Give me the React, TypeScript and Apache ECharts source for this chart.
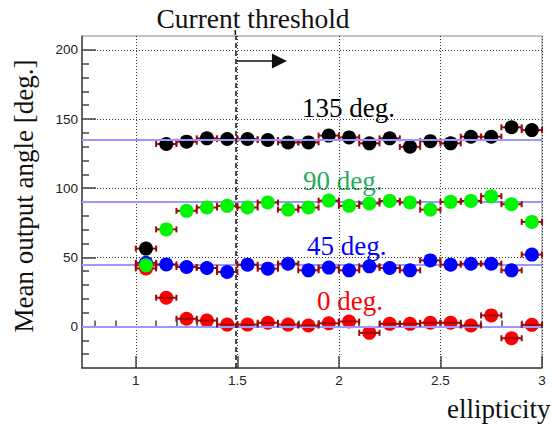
import React, { useEffect, useRef } from "react";
import * as echarts from "echarts";

// ---- data ----
const ellipticity = [1.05, 1.15, 1.25, 1.35, 1.45, 1.55, 1.65, 1.75, 1.85, 1.95, 2.05, 2.15, 2.25, 2.35, 2.45, 2.55, 2.65, 2.75, 2.85, 2.95];
const binHalfWidth = 0.05;
const angle0 = [42, 20.8, 5.6, 4.3, 1.4, 1.4, 2.7, 1.4, 0.7, 2.3, 3.6, -4.6, 1.9, 1.9, 2.7, 2.7, 0.7, 8, -8.5, 1.2];
const angle45 = [46, 44.9, 43, 42.3, 39.4, 44.7, 41.8, 45.4, 40.6, 42.6, 40.6, 43.5, 42.3, 40.6, 47.8, 44.7, 45.4, 45.4, 40.6, 52];
const angle90 = [44.2, 70.2, 83.6, 86, 87.2, 86, 89.6, 84.5, 86, 91, 87.2, 88.9, 90.8, 89.6, 84.5, 90.1, 90.8, 94.2, 88.4, 75.6];
const angle135 = [56.3, 131.9, 133.6, 136, 135.5, 135.5, 134.8, 133.1, 133.1, 138, 136.7, 132.4, 136, 129.9, 134, 132.4, 137.2, 137.2, 144, 142];
const referenceAngles = [0, 45, 90, 135];
const threshold = 1.49;
const arrowFrom = 1.4975;
const arrowTip = 1.744;
const arrowLevel = 192;

const xMajorTicks = [1, 1.5, 2, 2.5, 3];
const xMinorTicks = [0.8, 0.9, 1.1, 1.2, 1.3, 1.4, 1.6, 1.7, 1.8, 1.9, 2.1, 2.2, 2.3, 2.4, 2.6, 2.7, 2.8, 2.9];
const yMajorTicks = [0, 50, 100, 150, 200];
const yMinorTicks = [-20, -10, 10, 20, 30, 40, 60, 70, 80, 90, 110, 120, 130, 140, 160, 170, 180, 190];
const X_MIN = 0.735, X_MAX = 3, Y_MIN = -30, Y_MAX = 210;

const SERIF = "'Liberation Serif', 'Times New Roman', serif";
const SANS = "'Liberation Sans', Arial, sans-serif";
const ERR_COLOR = "#9a0a0a";

function pairs(vals: number[]) {
  return ellipticity.map((x, i) => [x, vals[i]]);
}

function errSeries(vals: number[], z: number) {
  return {
    type: "custom",
    z,
    data: pairs(vals),
    encode: { x: 0, y: 1 },
    silent: true,
    renderItem: (params: any, api: any) => {
      const x = api.value(0), y = api.value(1);
      const p1 = api.coord([x - binHalfWidth, y]);
      const p2 = api.coord([x + binHalfWidth, y]);
      const cap = 3;
      const st = { stroke: ERR_COLOR, lineWidth: 2 };
      return {
        type: "group",
        children: [
          { type: "line", shape: { x1: p1[0], y1: p1[1], x2: p2[0], y2: p2[1] }, style: st },
          { type: "line", shape: { x1: p1[0], y1: p1[1] - cap, x2: p1[0], y2: p1[1] + cap }, style: st },
          { type: "line", shape: { x1: p2[0], y1: p2[1] - cap, x2: p2[0], y2: p2[1] + cap }, style: st },
        ],
      };
    },
  };
}

function ptSeries(vals: number[], color: string, z: number) {
  return {
    type: "scatter",
    z,
    data: pairs(vals),
    symbol: "circle",
    symbolSize: 14,
    itemStyle: { color, opacity: 1 },
    silent: true,
  };
}

export default function App() {
  const ref = useRef<HTMLDivElement>(null);
  useEffect(() => {
    if (!ref.current) return;
    const chart = echarts.init(ref.current, null, { renderer: "svg" });
    const axisColor = "#444";
    const option: any = {
      animation: false,
      backgroundColor: "#ffffff",
      grid: { left: 82, right: 9, top: 36, bottom: 57, show: true, borderColor: "#888", borderWidth: 1, containLabel: false },
      xAxis: [
        {
          type: "value", min: X_MIN, max: X_MAX, position: "bottom",
          axisLine: { show: true, onZero: false, lineStyle: { color: axisColor, width: 1.5 } },
          axisTick: { show: true, inside: true, length: 12, customValues: xMajorTicks, lineStyle: { color: axisColor, width: 1.5 } },
          axisLabel: { customValues: xMajorTicks, margin: 5, fontSize: 13.5, color: "#222", fontFamily: SANS },
          splitLine: { show: true, lineStyle: { color: "#333", type: [1, 2], width: 1 } },
        },
        {
          type: "value", min: X_MIN, max: X_MAX, position: "bottom",
          axisLine: { show: false },
          axisTick: { show: true, inside: true, length: 6, customValues: xMinorTicks, lineStyle: { color: axisColor, width: 1.5 } },
          axisLabel: { show: false },
          splitLine: { show: false },
        },
      ],
      yAxis: [
        {
          type: "value", min: Y_MIN, max: Y_MAX, position: "left",
          axisLine: { show: true, onZero: false, lineStyle: { color: axisColor, width: 1.5 } },
          axisTick: { show: true, inside: true, length: 14, customValues: yMajorTicks, lineStyle: { color: axisColor, width: 1.5 } },
          axisLabel: { customValues: yMajorTicks, margin: 4, fontSize: 13.5, color: "#222", fontFamily: SANS },
          splitLine: { show: true, lineStyle: { color: "#333", type: [1, 2], width: 1 } },
        },
        {
          type: "value", min: Y_MIN, max: Y_MAX, position: "left",
          axisLine: { show: false },
          axisTick: { show: true, inside: true, length: 7, customValues: yMinorTicks, lineStyle: { color: axisColor, width: 1.5 } },
          axisLabel: { show: false },
          splitLine: { show: false },
        },
      ],
      series: [
        {
          type: "line", z: 1, data: [], silent: true,
          markLine: {
            silent: true, symbol: "none", label: { show: false },
            lineStyle: { color: "#9999ff", width: 2, type: "solid" },
            data: referenceAngles.map((a) => ({ yAxis: a })),
          },
        },
        errSeries(angle135, 2), ptSeries(angle135, "#000000", 3),
        ptSeries(angle0, "#ff0000", 4), errSeries(angle0, 5),
        errSeries(angle45, 6), ptSeries(angle45, "#0000ff", 7),
        errSeries(angle90, 8), ptSeries(angle90, "#00f500", 9),
        {
          type: "line", z: 20, data: [], silent: true,
          markLine: {
            silent: true, label: { show: false }, symbol: "none",
            lineStyle: { color: "#111", width: 1.5, type: [5, 3] },
            data: [{ xAxis: threshold }],
          },
        },
      ],
      graphic: [
        { type: "text", x: 253, y: 18, style: { text: "Current threshold", font: `27.5px ${SERIF}`, fill: "#111", align: "center", verticalAlign: "middle" } },
        { type: "text", x: 302, y: 108, style: { text: "135 deg.", font: `27px ${SERIF}`, fill: "#000", align: "left", verticalAlign: "middle" } },
        { type: "text", x: 303, y: 181, style: { text: "90 deg.", font: `27px ${SERIF}`, fill: "#1fae5b", align: "left", verticalAlign: "middle" } },
        { type: "text", x: 307, y: 246, style: { text: "45 deg.", font: `27px ${SERIF}`, fill: "#0000ff", align: "left", verticalAlign: "middle" } },
        { type: "text", x: 317, y: 301, style: { text: "0 deg.", font: `27px ${SERIF}`, fill: "#ff0000", align: "left", verticalAlign: "middle" } },
        { type: "text", x: 447, y: 409, style: { text: "ellipticity", font: `27px ${SERIF}`, fill: "#111", align: "left", verticalAlign: "middle" } },
        { type: "text", x: 24, y: 196, rotation: Math.PI / 2, style: { text: "Mean output angle [deg.]", font: `27px ${SERIF}`, fill: "#111", align: "center", verticalAlign: "middle" } },
      ],
    };
    chart.setOption(option);
    const g = { gridIndex: 0 } as any;
    const top = chart.convertToPixel(g, [threshold, Y_MAX]) as number[];
    const a0 = chart.convertToPixel(g, [arrowFrom, arrowLevel]) as number[];
    const a1 = chart.convertToPixel(g, [arrowTip, arrowLevel]) as number[];
    if (top && a0 && a1) {
      const headLen = 15, headHalf = 7.5;
      chart.setOption({
        graphic: [
          ...option.graphic,
          { type: "line", z: 30, shape: { x1: top[0], y1: top[1] - 6, x2: top[0], y2: top[1] }, style: { stroke: "#111", lineWidth: 1.5, lineDash: [5, 3] } },
          { type: "line", z: 30, shape: { x1: a0[0], y1: a0[1], x2: a1[0] - headLen + 1, y2: a1[1] }, style: { stroke: "#111", lineWidth: 1.5 } },
          {
            type: "polygon", z: 30,
            shape: { points: [[a1[0], a1[1]], [a1[0] - headLen, a1[1] - headHalf], [a1[0] - headLen, a1[1] + headHalf]] },
            style: { fill: "#111" },
          },
        ],
      });
    }
    return () => chart.dispose();
  }, []);
  return <div ref={ref} style={{ position: "absolute", left: 0, top: 0, width: 551, height: 425 }} />;
}
